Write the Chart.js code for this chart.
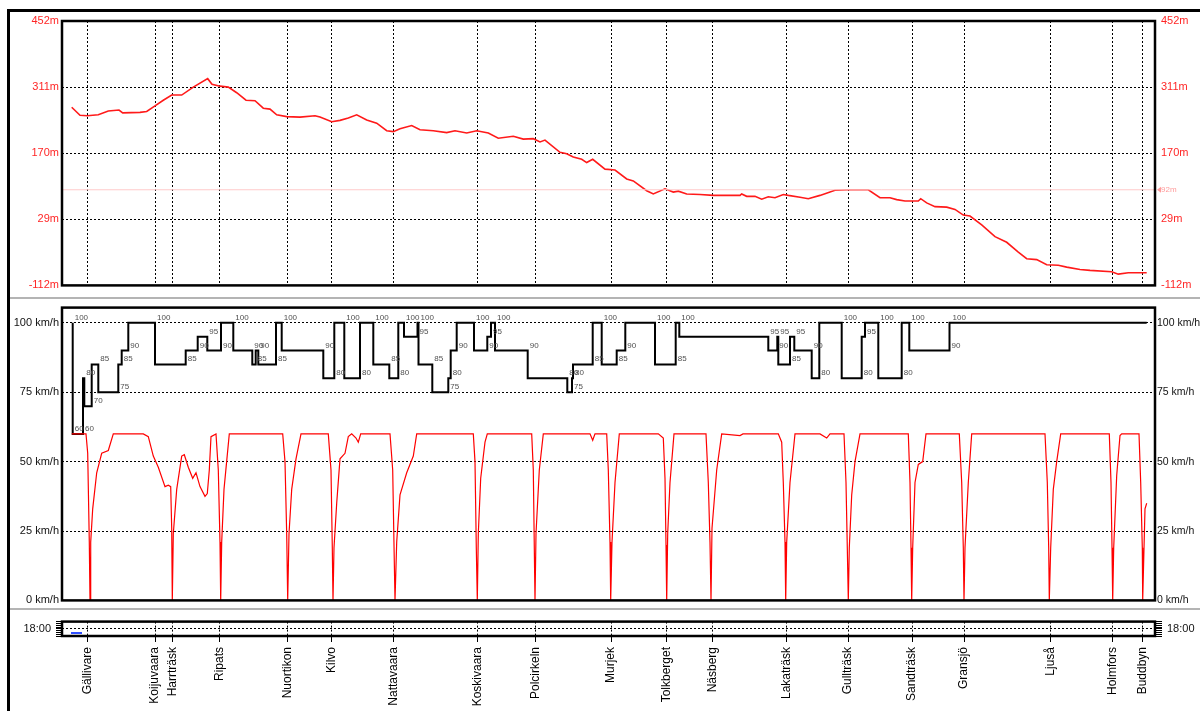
<!DOCTYPE html>
<html><head><meta charset="utf-8">
<script src="https://cdn.jsdelivr.net/npm/chart.js@4"></script>
<style>
html,body{margin:0;padding:0;background:#fff;width:1200px;height:711px;overflow:hidden;}
canvas{position:absolute;left:0;}
.ln{position:absolute;pointer-events:none;}
</style></head><body>
<canvas id="c1" width="1200" height="298" style="top:0px"></canvas>
<canvas id="c2" width="1200" height="312" style="top:298px"></canvas>
<canvas id="c3" width="1200" height="101" style="top:610px"></canvas>
<div class="ln" style="left:7px;top:9px;width:1193px;height:3px;background:#000"></div>
<div class="ln" style="left:7px;top:9px;width:3px;height:702px;background:#000"></div>
<div class="ln" style="left:10px;top:297px;width:1190px;height:2px;background:#b4b4b4"></div>
<div class="ln" style="left:10px;top:608px;width:1190px;height:2px;background:#b4b4b4"></div>
<script>
// ---- data (x = position along the route, chart units) ----
const stationNames = ['Gällivare','Koijuvaara','Harrträsk','Ripats','Nuortikon','Kilvo','Nattavaara','Koskivaara','Polcirkeln','Murjek','Tolkberget','Näsberg','Lakaträsk','Gullträsk','Sandträsk','Gransjö','Ljuså','Holmfors','Buddbyn'];
const stationPos = [25.3,93,110.7,157.3,225.7,269.7,331.3,415.7,473.7,549,604.7,650.3,724.7,786,850,902,988.7,1050.3,1080.3];

const elevTicks = [-112,29,170,311,452];
const refElev = 92;
const elevPos = [9.7,18,25.3,36.3,46.3,57,60.7,78,84.7,93,101.3,109.7,119.7,131.3,145.7,150,158,166.3,174.7,184,193,201.3,208,214.7,224.7,238,253,258,269.7,278,286.3,294.7,304.7,314.7,324.7,331.3,338,349.7,358,371.3,384.7,393,404.7,414.7,426.3,436.3,451.3,461.3,471.3,478,483,498,504.7,511.3,519.7,524.7,530.7,543,553,564.7,571.3,584.7,591.3,603,611.3,616.3,624.7,638,651.3,678,679.7,684.7,693,699.7,706.3,713,721.3,726.3,738,746.3,758,773,786.3,806.3,818,828,834.7,843,856.3,858.7,864.7,873,884.7,893,901.3,908,919.7,933,944.7,956.3,964.7,974.7,984.7,996.3,1004.7,1018,1028,1049.7,1056.3,1066.3,1084.7];
const elevM = [268,251,250,252,260,262,256,257,259,271,283,294,294,311,329,317,313,311,299,283,282,266,264,252,248,247,250,247,237,240,245,252,241,234,218,216,222,229,220,218,214,218,213,218,213,202,206,200,201,194,198,172,169,162,157,150,157,136,134,115,111,90,83,94,87,89,83,82,80,80,83,78,78,72,77,75,82,80,76,73,80,91,92,92,75,75,71,68,68,73,64,56,55,50,38,36,17,-8,-20,-41,-55,-57,-68,-69,-73,-78,-80,-83,-88,-85,-85];

const speedTicks = [0,25,50,75,100];
const limitPos = [10.7,10.7,21,22.3,29.7,36.3,56.3,59.7,66.3,93,123.7,135.7,145.3,159,171.3,190.3,193.7,196.3,214,219.7,261.3,272.3,282.3,298,311.3,327.3,336.3,342,355.5,356.5,370.3,386.3,388.7,394.7,412,425.3,429,433,465.7,505.3,510,511,530.7,539.7,554.7,563.3,593,613.7,617.3,706.3,715.3,716.3,728,732.3,749.7,757.3,779.7,799.7,803,816.3,839.7,847.3,887.5,888.5];
const limitKmh = [100,60,60,80,70,85,75,85,90,100,85,90,95,90,100,90,85,90,85,100,90,80,100,80,100,85,80,100,95,100,85,75,80,90,100,90,95,100,90,80,75,80,85,100,85,90,100,85,100,95,90,95,85,95,90,80,100,80,95,100,80,100,90,100];
const limitEnd = 1084.7;

const speedPos = [9.7,24,25.7,27.3,28,28.7,30.7,34.7,39.7,46.3,51.3,81.3,86.3,91.3,96.3,103,106.3,108.7,109.7,110.3,111.3,114.7,119.7,122.3,126.3,130.7,134,138,143,145.3,147.3,149,154,156.3,158,158.7,159.7,162,167.3,220.7,223,224.7,225.7,227,229.7,234,239,266.3,269,270.3,271,272,274.7,278,283,286.3,289.7,294,296.3,298.7,328,330.7,332,333,334.7,338,344.7,351.3,354.7,411.3,413,414.3,415.3,416.3,418.7,423,425.3,469.7,471.3,472.3,473,474,477.3,481.3,528,530.7,533,544.7,546.3,548,548.7,550,553,557.3,596.3,601.3,603,604,604.7,605.7,608,612,644,646.3,648,649,650,654.7,659.7,678,681,716.3,719.7,721.3,723,723.7,724.7,728,733,758,764.7,768,782,784,785.3,786.3,787.3,789.7,793,798,846.3,848,849,849.7,850.7,853,856.3,860.7,864,897.3,899.7,901.3,902,903,906.3,909.7,983,985.3,986.7,987.3,988.7,991.3,994.7,998.7,1047.3,1049,1050,1050.7,1051.7,1054.7,1058,1059.7,1077,1078.7,1080.3,1080.7,1083,1084.7];
const speedKmh = [60,60,53,21,0,21,33,46,53,54,60,60,59,52,48,41,41.5,41,26,0,24,40,52,52.5,48,44,46,41,37.5,38.5,47,59,60,47,21,0,21,40,60,60,50,24,0,24,40,51,60,60,47,19,0,19,35,51,53,59,60,58.5,57,60,60,47,20,0,21,38,46,52,60,60,50,19,0,24,44,57,60,60,47,19,0,24,47,60,60,57.7,60,60,47,21,0,21,42.5,60,60,58.5,44,20,0,24,42.5,60,60,42.5,21,0,26,47,60,59.4,60,60,57,42.5,21,0,21,42.5,60,60,58.5,60,60,42.5,19,0,19,38,50,60,60,42.5,19,0,19,42.5,49,50,60,60,42.5,19,0,19,42.5,60,60,42.5,19,0,19,40,50,60,60,42.5,19,0,19,45,59.4,60,60,42.5,19,0,33,35];

const timeTicks = [1078,1078.5,1079,1079.5,1080,1080.5,1081,1081.5,1082];
const timeLabelValue = 1080, timeLabel = '18:00';
const bluePos = [9,20];
const blueTime = [1078.8,1078.8];

// ---- helpers ----
const X_MAX = 1093;
const FONT = 'Arial, "Liberation Sans", sans-serif';
Chart.defaults.font.family = FONT;
const pts = (xs, ys) => xs.map((x, i) => ({x, y: ys[i]}));
const fixW = w => s => { s.width = w; };
const setTicks = arr => s => { s.ticks = arr.map(v => ({value: v})); };

const framePlugin = {
  id: 'frame',
  afterDraw(chart) {
    const a = chart.chartArea, ctx = chart.ctx;
    ctx.save(); ctx.strokeStyle = '#000'; ctx.lineWidth = 2.5;
    ctx.strokeRect(a.left, a.top, a.right - a.left, a.bottom - a.top);
    ctx.restore();
  }
};
const refLabelPlugin = {
  id: 'refLabel',
  afterDraw(chart) {
    const ctx = chart.ctx, y = chart.scales.y.getPixelForValue(refElev), x = chart.chartArea.right;
    ctx.save(); ctx.fillStyle = '#ff9c9c';
    ctx.beginPath(); ctx.moveTo(x + 2, y); ctx.lineTo(x + 6, y - 3); ctx.lineTo(x + 6, y + 3); ctx.closePath(); ctx.fill();
    ctx.font = '8px ' + FONT; ctx.textBaseline = 'middle'; ctx.fillText(refElev + 'm', x + 6, y);
    ctx.restore();
  }
};
const limitLabelPlugin = {
  id: 'limitLabels',
  afterDatasetsDraw(chart) {
    const ctx = chart.ctx, sx = chart.scales.x, sy = chart.scales.y;
    ctx.save(); ctx.font = '8px ' + FONT; ctx.fillStyle = '#505050'; ctx.textAlign = 'left'; ctx.textBaseline = 'alphabetic';
    limitPos.forEach((p, i) => ctx.fillText(String(limitKmh[i]), sx.getPixelForValue(p) + 2, sy.getPixelForValue(limitKmh[i]) - 3));
    ctx.restore();
  }
};

const baseOpts = (pad) => ({
  responsive: false, animation: false, devicePixelRatio: 1,
  layout: {padding: pad},
  plugins: {legend: {display: false}, tooltip: {enabled: false}},
  elements: {point: {radius: 0}, line: {tension: 0}}
});
const dotted = {display: false, dash: [2, 2]};

// ---- chart 1: elevation ----
new Chart(document.getElementById('c1'), {
  type: 'line',
  data: {datasets: [
    {data: [{x: 0, y: refElev}, {x: X_MAX, y: refElev}], borderColor: '#ffcaca', borderWidth: 1},
    {data: pts(elevPos, elevM), borderColor: '#ff1a1a', borderWidth: 1.6}
  ]},
  options: Object.assign(baseOpts({top: 21, bottom: 9, left: 0, right: 0}), {
    scales: {
      x: {type: 'linear', min: 0, max: X_MAX, afterBuildTicks: setTicks(stationPos), ticks: {display: false},
          grid: {color: '#000', drawTicks: false}, border: dotted, afterFit: s => { s.height = 0; }},
      y: {position: 'left', min: -112, max: 452, afterBuildTicks: setTicks(elevTicks),
          ticks: {color: '#ff2626', font: {size: 11}, padding: 3, callback: v => v + 'm'},
          grid: {color: '#000', drawTicks: false}, border: dotted, afterFit: fixW(62)},
      y2: {position: 'right', min: -112, max: 452, afterBuildTicks: setTicks(elevTicks),
          ticks: {color: '#ff2626', font: {size: 11}, padding: 6, callback: v => v + 'm'},
          grid: {display: false, drawTicks: false}, border: {display: false}, afterFit: fixW(45)}
    }
  }),
  plugins: [framePlugin, refLabelPlugin]
});

// ---- chart 2: speed ----
new Chart(document.getElementById('c2'), {
  type: 'line',
  data: {datasets: [
    {data: pts(speedPos, speedKmh), borderColor: '#ff0000', borderWidth: 1.2},
    {data: pts(limitPos, limitKmh).concat([{x: limitEnd, y: limitKmh[limitKmh.length - 1]}]), borderColor: '#000', borderWidth: 2, stepped: 'after'}
  ]},
  options: Object.assign(baseOpts({top: 7, bottom: 8, left: 0, right: 0}), {
    scales: {
      x: {type: 'linear', min: 0, max: X_MAX, ticks: {display: false}, grid: {display: false, drawTicks: false}, border: {display: false}, afterFit: s => { s.height = 0; }},
      y: {position: 'left', min: 0, max: 105.5, afterBuildTicks: setTicks(speedTicks),
          ticks: {color: '#111', font: {size: 11}, padding: 3, callback: v => v + ' km/h'},
          grid: {color: '#000', drawTicks: false}, border: dotted, afterFit: fixW(62)},
      y2: {position: 'right', min: 0, max: 105.5, afterBuildTicks: setTicks(speedTicks),
          ticks: {color: '#111', font: {size: 10.5}, padding: 2, callback: v => v + ' km/h'},
          grid: {display: false, drawTicks: false}, border: {display: false}, afterFit: fixW(45)}
    }
  }),
  plugins: [framePlugin, limitLabelPlugin]
});

// ---- chart 3: time + station names ----
new Chart(document.getElementById('c3'), {
  type: 'line',
  data: {datasets: [
    {data: pts(bluePos, blueTime), borderColor: '#3050ff', borderWidth: 2}
  ]},
  options: Object.assign(baseOpts({top: 7, bottom: 0, left: 0, right: 0}), {
    scales: {
      x: {type: 'linear', min: 0, max: X_MAX, afterBuildTicks: setTicks(stationPos),
          ticks: {autoSkip: false, minRotation: 90, maxRotation: 90, color: '#000', font: {size: 12}, padding: 5,
                  callback: (v, i) => stationNames[i]},
          grid: {color: '#000', tickColor: '#000', tickLength: 6, drawTicks: true}, border: dotted,
          afterFit: s => { s.height = 75; }},
      y: {position: 'left', min: 1078, max: 1082, afterBuildTicks: setTicks(timeTicks),
          ticks: {autoSkip: false, color: '#111', font: {size: 11}, padding: 5, callback: v => v === timeLabelValue ? timeLabel : ''},
          grid: {color: c => (c.tick && c.tick.value === timeLabelValue) ? '#000' : 'rgba(0,0,0,0)', tickColor: '#000', tickLength: 6},
          border: dotted, afterFit: fixW(62)},
      y2: {position: 'right', min: 1078, max: 1082, afterBuildTicks: setTicks(timeTicks),
          ticks: {autoSkip: false, color: '#111', font: {size: 11}, padding: 5, callback: v => v === timeLabelValue ? timeLabel : ''},
          grid: {drawOnChartArea: false, tickColor: '#000', tickLength: 7}, border: {display: false}, afterFit: fixW(45)}
    }
  }),
  plugins: [framePlugin]
});
</script>
</body></html>
